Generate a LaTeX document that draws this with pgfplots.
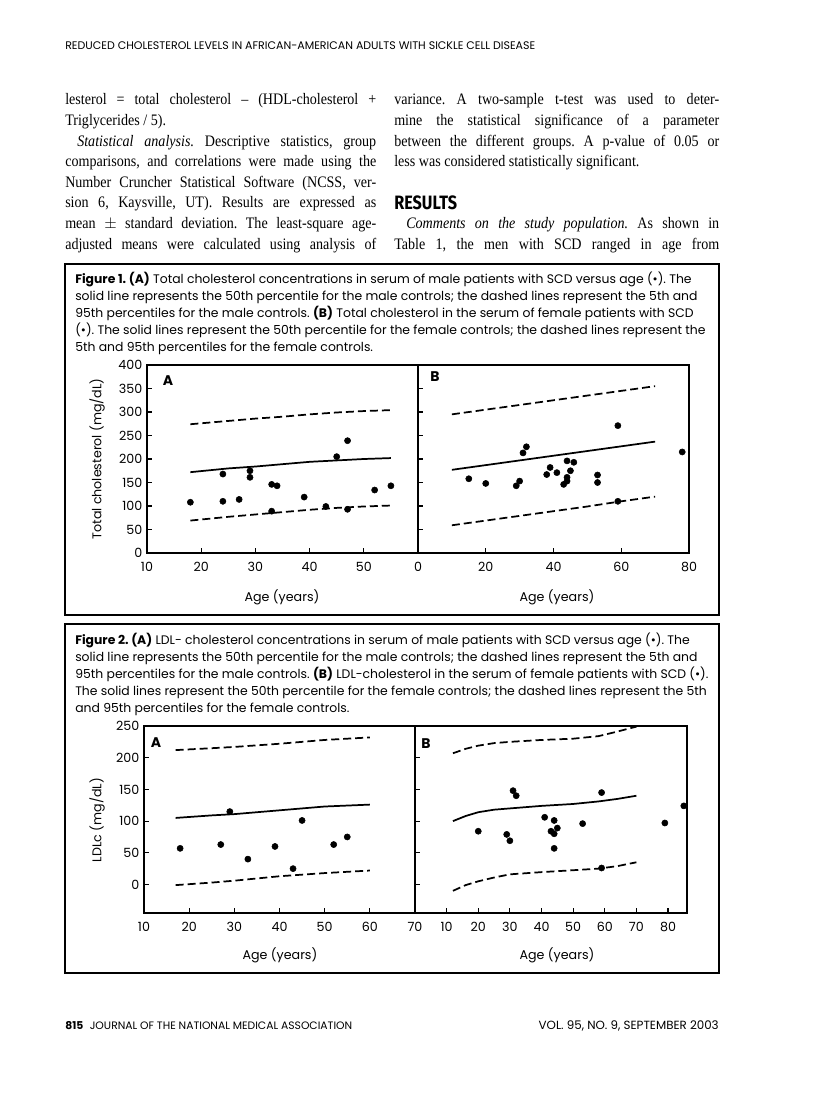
\documentclass[border=0pt]{standalone}
\usepackage{fontspec}
\setmainfont{Liberation Serif}[FakeStretch=0.88]
\newfontfamily\gfont{Poppins}
\newfontfamily\hfont{Fira Sans}
\usepackage{graphicx}
\usepackage{pgfplots}
\pgfplotsset{compat=1.18}
\frenchspacing

\newcommand\bodyfont{\fontsize{12}{13}\selectfont}
\newcommand\capfont{\gfont\fontsize{9.3}{11}\selectfont}
\newcommand\figfont{\gfont\fontsize{9.5}{10}\selectfont}
\newcommand\letterfont{\gfont\bfseries\fontsize{10.5}{11}\selectfont}

\pgfplotsset{
  panel/.style={
    scale only axis, anchor=south west,
    axis line style={line width=0.9pt},
    tick align=inside, xtick pos=bottom, ytick pos=left,
    major tick length=3.5pt,
    every tick/.style={black, line width=0.8pt},
    tick label style={font=\figfont},
    /pgf/number format/assume math mode=true,
    xticklabel style={yshift=-3pt},
  },
  pts/.style={only marks, mark=*, mark size=2.3pt, black},
  mid/.style={black, line width=1.3pt, no marks},
  pct/.style={black, line width=1.3pt, no marks, dash pattern=on 6pt off 3pt},
}

% justified body line (left / right column) and ragged body line
\newcommand\bl[3]{\node[anchor=mid west, inner sep=0] at (#1,#2) {\bodyfont\makebox[233.25pt][s]{#3}};}
\newcommand\br[3]{\node[anchor=mid west, inner sep=0] at (#1,#2) {\bodyfont\makebox[243.75pt][s]{#3}};}
\newcommand\rl[3]{\node[anchor=mid west, inner sep=0] at (#1,#2) {\bodyfont #3};}
\newcommand\cl[2]{\node[anchor=mid west, inner sep=0] at (75,#1) {\capfont #2};}

\begin{document}
\begin{tikzpicture}[x=0.75pt,y=-0.75pt]
\path[use as bounding box, fill=white] (0,0) rectangle (816,1093);

% running head
\node[anchor=mid west, inner sep=0] at (65,46)
  {\resizebox{352.5pt}{!}{\gfont REDUCED CHOLESTEROL LEVELS IN AFRICAN-AMERICAN ADULTS WITH SICKLE CELL DISEASE}};

% left column
\bl{65}{101}{lesterol = total cholesterol -- (HDL-cholesterol +}
\rl{65}{122}{Triglycerides / 5).}
\bl{65}{143}{\hspace*{9pt}\textit{Statistical analysis.} Descriptive statistics, group}
\bl{65}{163}{comparisons, and correlations were made using the}
\bl{65}{184}{Number Cruncher Statistical Software (NCSS, ver-}
\bl{65}{204}{sion 6, Kaysville, UT). Results are expressed as}
\bl{65}{225}{mean $\pm$ standard deviation. The least-square age-}
\bl{65}{246}{adjusted means were calculated using analysis of}

% right column
\br{394}{101}{variance. A two-sample t-test was used to deter-}
\br{394}{122}{mine the statistical significance of a parameter}
\br{394}{143}{between the different groups. A p-value of 0.05 or}
\rl{394}{163}{less was considered statistically significant.}
\node[anchor=mid west, inner sep=0] at (394,206)
  {\scalebox{0.84}[1]{\hfont\bfseries\fontsize{14.5}{16}\selectfont RESULTS}};
\br{394}{225}{\hspace*{9pt}\textit{Comments on the study population.} As shown in}
\br{394}{246}{Table 1, the men with SCD ranged in age from}

% ---------------- Figure 1 ----------------
\draw[line width=1.1pt] (65,264) rectangle (719,615);
\cl{280}{\textbf{Figure 1. (A)} Total cholesterol concentrations in serum of male patients with SCD versus age (\textbullet). The}
\cl{297}{solid line represents the 50th percentile for the male controls; the dashed lines represent the 5th and}
\cl{314}{95th percentiles for the male controls. \textbf{(B)} Total cholesterol in the serum of female patients with SCD}
\cl{331}{(\textbullet). The solid lines represent the 50th percentile for the female controls; the dashed lines represent the}
\cl{348}{5th and 95th percentiles for the female controls.}

\begin{axis}[panel, at={(110.25pt,-414.75pt)}, width=203.25pt, height=141pt,
  xmin=10, xmax=60, ymin=0, ymax=400,
  xtick={10,20,30,40,50}, ytick={0,50,...,400}]
  \addplot[pct] coordinates {(18,274) (25,281) (30,286) (35,290) (40,295) (45,299) (50,302) (55,304)};
  \addplot[mid] coordinates {(18,172) (25,180) (30,184) (35,189) (40,194) (45,197) (50,200) (55,202)};
  \addplot[pct] coordinates {(18,69) (25,77) (30,82) (35,87) (40,92) (45,96) (50,99) (55,101)};
  \addplot[pts] coordinates {
    (18,108) (24,168) (24,110) (27,114) (29,175) (29,161) (33,146) (33,89)
    (34,143) (39,119) (43,99) (45,205) (47,239) (47,93) (52,134) (55,143)};
\end{axis}

\begin{axis}[panel, at={(313.5pt,-414.75pt)}, width=203.25pt, height=141pt,
  xmin=0, xmax=80, ymin=0, ymax=400,
  xtick={0,20,40,60,80}, ytick={0,50,...,400}, yticklabels={}]
  \addplot[pct] coordinates {(10,295) (20,305) (30,315) (40,325) (50,335) (60,345) (70,355)};
  \addplot[mid] coordinates {(10,177) (20,187) (30,197) (40,207) (50,217) (60,227) (70,237)};
  \addplot[pct] coordinates {(10,59) (20,69) (30,79) (40,89) (50,99) (60,110) (70,120)};
  \addplot[pts] coordinates {
    (15,158) (20,148) (29,143) (30,153) (31,213) (32,226) (38,167) (39,182)
    (41,171) (43,146) (44,196) (44,161) (44,153) (45,175) (46,193) (53,166)
    (53,150) (59,271) (59,110) (78,215)};
\end{axis}

\node[rotate=90, font=\figfont] at (97,459) {Total cholesterol (mg/dL)};
\node[font=\figfont] at (282,597) {Age (years)};
\node[font=\figfont] at (557,597) {Age (years)};
\node[font=\letterfont] at (168,381) {A};
\node[font=\letterfont] at (435,377) {B};

% ---------------- Figure 2 ----------------
\draw[line width=1.1pt] (65,624) rectangle (719,973);
\cl{641}{\textbf{Figure 2. (A)} LDL- cholesterol concentrations in serum of male patients with SCD versus age (\textbullet). The}
\cl{658}{solid line represents the 50th percentile for the male controls; the dashed lines represent the 5th and}
\cl{675}{95th percentiles for the male controls. \textbf{(B)} LDL-cholesterol in the serum of female patients with SCD (\textbullet).}
\cl{692}{The solid lines represent the 50th percentile for the female controls; the dashed lines represent the 5th}
\cl{709}{and 95th percentiles for the female controls.}

\begin{axis}[panel, at={(108pt,-684.75pt)}, width=203.25pt, height=140.25pt,
  xmin=10, xmax=70, ymin=-45, ymax=250,
  xtick={10,20,...,70}, ytick={0,50,...,250}]
  \addplot[pct] coordinates {(17,212) (25,215) (30,217) (40,222) (50,228) (60,232)};
  \addplot[mid] coordinates {(17,105) (25,109) (30,111) (40,117) (50,123) (60,126)};
  \addplot[pct] coordinates {(17,-1) (25,3) (30,6) (40,13) (50,18) (60,22)};
  \addplot[pts] coordinates {
    (18,57) (27,63) (29,115) (33,40) (39,60) (43,25) (45,101) (52,63) (55,75)};
\end{axis}

\begin{axis}[panel, at={(311.25pt,-684.75pt)}, width=204pt, height=140.25pt,
  xmin=0, xmax=86, ymin=-45, ymax=250,
  xtick={10,20,...,80}, ytick={0,50,...,250}, yticklabels={}]
  \addplot[pct] coordinates {(12,207) (16,214) (20,219) (25,223) (30,225) (40,228) (50,230) (58,234) (63,240) (70,249)};
  \addplot[mid] coordinates {(12,100) (16,108) (20,114) (25,118) (30,120) (40,124) (50,127) (58,131) (64,135) (70,140)};
  \addplot[pct] coordinates {(12,-10) (16,-1) (20,5) (25,11) (30,16) (40,19.5) (50,22.5) (58,25) (64,29) (70,35)};
  \addplot[pts] coordinates {
    (20,84) (29,79) (30,69) (31,148) (32,140) (41,106) (43,84) (44,101)
    (44,80) (44,57) (45,89) (53,96) (59,145) (59,26) (79,97) (85,124)};
\end{axis}

\node[rotate=90, font=\figfont] at (97,820) {LDLc (mg/dL)};
\node[font=\figfont] at (280,955) {Age (years)};
\node[font=\figfont] at (557,955) {Age (years)};
\node[font=\letterfont] at (156,743) {A};
\node[font=\letterfont] at (426,744) {B};

% footer
\node[anchor=mid west, inner sep=0] at (65,1026)
  {\resizebox{215.25pt}{!}{\gfont\textbf{815}\hspace{0.6em}JOURNAL OF THE NATIONAL MEDICAL ASSOCIATION}};
\node[anchor=mid east, inner sep=0] at (719,1026)
  {\resizebox{135pt}{!}{\gfont VOL. 95, NO. 9, SEPTEMBER 2003}};
\end{tikzpicture}
\end{document}
